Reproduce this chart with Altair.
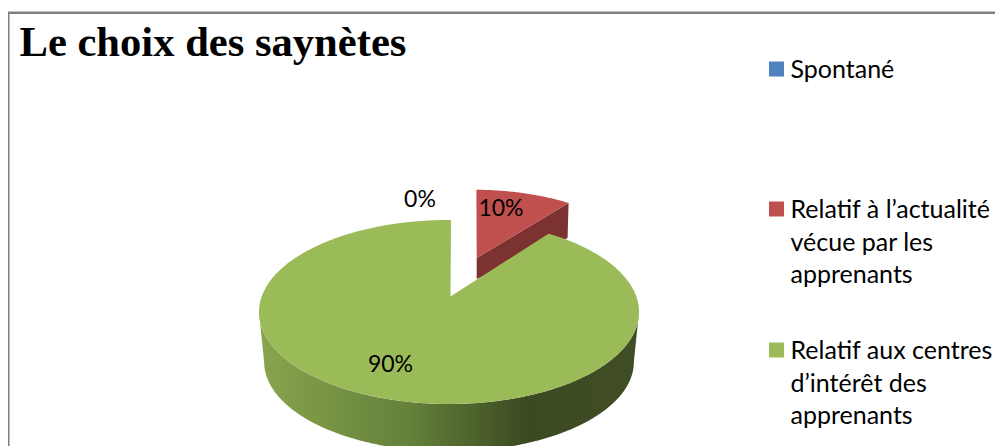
import numpy as np
import pandas as pd
import altair as alt

title_text = "Le choix des saynètes"
categories = ["Spontané", "Relatif à l’actualité\nvécue par les\napprenants", "Relatif aux centres\nd’intérêt des\napprenants"]
shares = [0, 10, 90]
labels = ["0%", "10%", "90%"]
colors = ["#4F81BD", "#C0504D", "#9BBB59"]
wall_red = "#7B3230"

# page-pixel frame of the picture, and the ellipse of the main pie in it
W, H, M = 987, 438, 8
CX, CY, RX, RY = 449.0, 312.0, 190.0, 92.0
ux = lambda px: (px - CX) / RX
uy = lambda py: (CY - py) / RY
x_scale = alt.Scale(domain=[ux(M), ux(M + W)], nice=False, zero=False)
y_scale = alt.Scale(domain=[uy(M + H), uy(M)], nice=False, zero=False)
X = alt.X("x:Q", scale=x_scale, axis=None)
Y = alt.Y("y:Q", scale=y_scale, axis=None)

TILT = 31.0 / 36.0   # foreshortening of the angle near the back of the tilted pie
ROT = 0.6
arc = lambda a, b, n=90: np.radians(np.linspace(a, b, n) * TILT + ROT)
end_red = shares[1] * 3.6

def poly(xs, ys):
    return pd.DataFrame({"x": xs, "y": ys, "o": range(len(xs))})

def shape(df, fill):
    return alt.Chart(df).mark_line(fill=fill, strokeWidth=0, clip=True, interpolate="linear").encode(
        x=X, y=Y, order="o:Q")

# red slice (pulled out)
rc_x, rc_y, r_s = ux(474.5), uy(279), 0.945
t = arc(0, end_red)
rim_x = rc_x + r_s * np.sin(t)
rim_y = rc_y + 0.97 * np.cos(t)
apex_x, apex_y = ux(476.7), uy(258)
red_top = poly(np.r_[apex_x, rim_x], np.r_[apex_y, rim_y])
red_wall = poly([apex_x, rim_x[-1], rim_x[-1] - 1 / RX, apex_x],
                [apex_y, rim_y[-1], rim_y[-1] - 35 / RY, apex_y - 21 / RY])

# green slice
t = np.radians(np.r_[np.linspace(end_red * TILT + ROT, 360 + ROT, 300)])
apex_gx, apex_gy = ux(450.5), uy(296.5)
green_top = poly(np.r_[apex_gx, np.sin(t)], np.r_[apex_gy, np.cos(t)])
front = np.radians(np.linspace(90, 270, 200))
wall_drop, wall_scale = 50 / RY, 0.973
green_wall = poly(np.r_[np.sin(front), wall_scale * np.sin(front[::-1])],
                  np.r_[np.cos(front), wall_scale * np.cos(front[::-1]) - wall_drop])
gradient = alt.Gradient(gradient="linear", x1=0, x2=1, y1=0, y2=0, stops=[
    alt.GradientStop(offset=0, color="#88A54D"),
    alt.GradientStop(offset=0.4, color="#64803A"),
    alt.GradientStop(offset=0.7, color="#3C4A21"),
    alt.GradientStop(offset=1, color="#414E25"),
])

# data labels
label_df = pd.DataFrame({"x": [ux(420), ux(501), ux(390.5)], "y": [uy(199.5), uy(208.5), uy(364.5)], "t": labels})
label_layer = alt.Chart(label_df).mark_text(font="Lato", fontSize=23, color="black", clip=True).encode(x=X, y=Y, text="t:N")

# legend
legend_df = pd.DataFrame({"x": [ux(776.5)] * 3, "tx": [ux(790.5)] * 3, "y": [uy(69), uy(209), uy(350)],
                          "tt": [uy(70), uy(210), uy(351)],
                          "c": categories, "k": ["a", "b", "c"]})
legend_sym = alt.Chart(legend_df).mark_square(size=225, opacity=1, strokeWidth=0).encode(
    x=X, y=Y, color=alt.Color("k:N", scale=alt.Scale(domain=["a", "b", "c"], range=colors), legend=None))
legend_txt = alt.Chart(legend_df).mark_text(font="Lato", fontSize=25, align="left", baseline="middle",
                                            lineBreak="\n", lineHeight=32.5, color="black").encode(
    x=alt.X("tx:Q", scale=x_scale, axis=None), y=alt.Y("tt:Q", scale=y_scale, axis=None), text="c:N")

# title
title_df = pd.DataFrame({"x": [ux(19.5)], "y": [uy(56)], "t": [title_text]})
title_layer = alt.Chart(title_df).mark_text(font="Liberation Serif", fontSize=42.6, fontWeight="bold", align="left",
                                            baseline="alphabetic", color="black").encode(x=X, y=Y, text="t:N")

# frame (top and left only, the rest is cut off in the reference)
frame_t = alt.Chart(pd.DataFrame({"a": [0]})).mark_rule(color="#808080", strokeWidth=2.5).encode(
    x=alt.value(0), x2=alt.value(W), y=alt.value(4.8))
frame_l = alt.Chart(pd.DataFrame({"a": [0]})).mark_rule(color="#808080", strokeWidth=2.5).encode(
    x=alt.value(0.3), y=alt.value(4), y2=alt.value(H))

chart = alt.layer(
    frame_t, frame_l,
    shape(red_wall, wall_red), shape(red_top, colors[1]),
    shape(green_wall, gradient), shape(green_top, colors[2]),
    label_layer, legend_sym, legend_txt, title_layer,
).properties(
    width=W, height=H, padding=0, autosize=alt.AutoSizeParams(type="none"),
).configure_view(stroke=None)

chart.save("out.html", embed_options={"renderer": "svg", "actions": False})
